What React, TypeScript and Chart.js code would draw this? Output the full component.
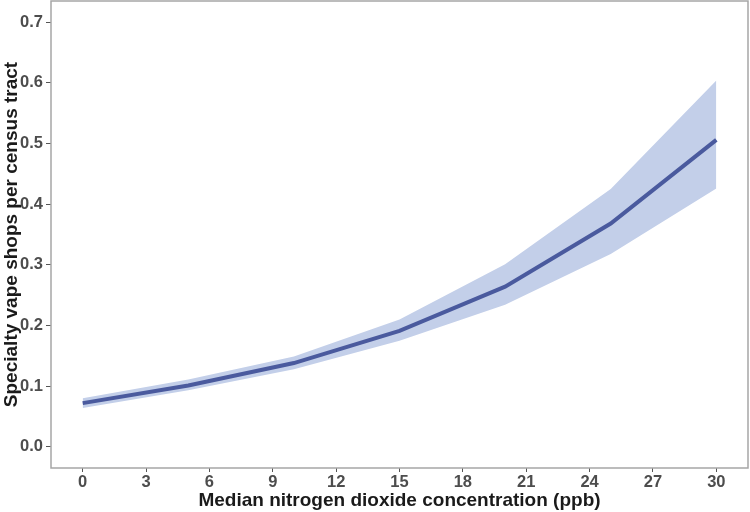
import React, { useEffect, useRef } from "react";
import { Chart, registerables } from "chart.js";

Chart.register(...registerables);

const xValues = [0, 5, 10, 15, 20, 25, 30];
const fitValues = [0.072, 0.101, 0.138, 0.191, 0.264, 0.368, 0.506];
const lowerValues = [0.064, 0.093, 0.128, 0.175, 0.234, 0.318, 0.426];
const upperValues = [0.080, 0.111, 0.149, 0.210, 0.301, 0.425, 0.604];
const xTicks = [0, 3, 6, 9, 12, 15, 18, 21, 24, 27, 30];
const yTicks = [0.0, 0.1, 0.2, 0.3, 0.4, 0.5, 0.6, 0.7];

const toPoints = (ys: number[]) => xValues.map((x, i) => ({ x, y: ys[i] }));

const frame = {
  id: "frame",
  afterDraw(chart: any) {
    const { ctx, chartArea } = chart;
    ctx.save();
    ctx.strokeStyle = "#a6a6a6";
    ctx.lineWidth = 1.5;
    ctx.strokeRect(chartArea.left, chartArea.top, chartArea.right - chartArea.left, chartArea.bottom - chartArea.top);
    ctx.restore();
  },
};

export default function App() {
  const ref = useRef<HTMLCanvasElement>(null);
  useEffect(() => {
    document.body.style.margin = "0";
    const tickFont = { family: "'Liberation Sans', Arial, sans-serif", size: 16.5, weight: "bold" as const };
    const titleFont = { family: "'Liberation Sans', Arial, sans-serif", size: 19, weight: "bold" as const };
    const chart = new Chart(ref.current!, {
      type: "line",
      data: {
        datasets: [
          {
            label: "fit",
            data: toPoints(fitValues),
            borderColor: "#4a5a9e",
            borderWidth: 4,
            pointRadius: 0,
            fill: false,
            order: 0,
          },
          {
            label: "lower",
            data: toPoints(lowerValues),
            borderWidth: 0,
            borderColor: "rgba(0,0,0,0)",
            pointRadius: 0,
            fill: false,
            order: 2,
          },
          {
            label: "upper",
            data: toPoints(upperValues),
            borderWidth: 0,
            borderColor: "rgba(0,0,0,0)",
            backgroundColor: "#c3cfe9",
            pointRadius: 0,
            fill: "-1",
            order: 1,
          },
        ],
      },
      options: {
        animation: false,
        responsive: false,
        layout: { padding: { top: 1, right: 2, left: 0, bottom: 0 } },
        plugins: { legend: { display: false }, tooltip: { enabled: false } },
        scales: {
          x: {
            type: "linear",
            min: -1.5,
            max: 31.5,
            afterBuildTicks: (s: any) => { s.ticks = xTicks.map((v) => ({ value: v })); },
            afterFit: (s: any) => { s.height = 44; s.paddingLeft = 0; s.paddingRight = 0; s.paddingTop = 0; s.paddingBottom = 0; },
            grid: { display: true, drawOnChartArea: false, drawTicks: true, tickLength: 4, color: "#555", lineWidth: 1 },
            border: { display: false },
            ticks: { font: tickFont, color: "#4d4d4d", padding: 1, maxRotation: 0 },
            title: { display: true, text: "Median nitrogen dioxide concentration (ppb)", font: titleFont, color: "#1a1a1a", padding: { top: 0, bottom: 0 } },
          },
          y: {
            type: "linear",
            min: -0.035,
            max: 0.735,
            afterBuildTicks: (s: any) => { s.ticks = yTicks.map((v) => ({ value: v })); },
            afterFit: (s: any) => { s.width = 51; s.paddingLeft = 0; s.paddingRight = 0; s.paddingTop = 0; s.paddingBottom = 0; },
            grid: { display: true, drawOnChartArea: false, drawTicks: true, tickLength: 5, color: "#555", lineWidth: 1 },
            border: { display: false },
            ticks: { font: tickFont, color: "#4d4d4d", padding: 3, callback: (v: any) => Number(v).toFixed(1) },
            title: { display: true, text: "Specialty vape shops per census tract", font: titleFont, color: "#1a1a1a", padding: { top: 0, bottom: 0 } },
          },
        },
      },
      plugins: [frame],
    });
    return () => chart.destroy();
  }, []);
  return (
    <div style={{ position: "absolute", left: 0, top: 0, width: 750, height: 512 }}>
      <canvas ref={ref} width={750} height={512} />
    </div>
  );
}
